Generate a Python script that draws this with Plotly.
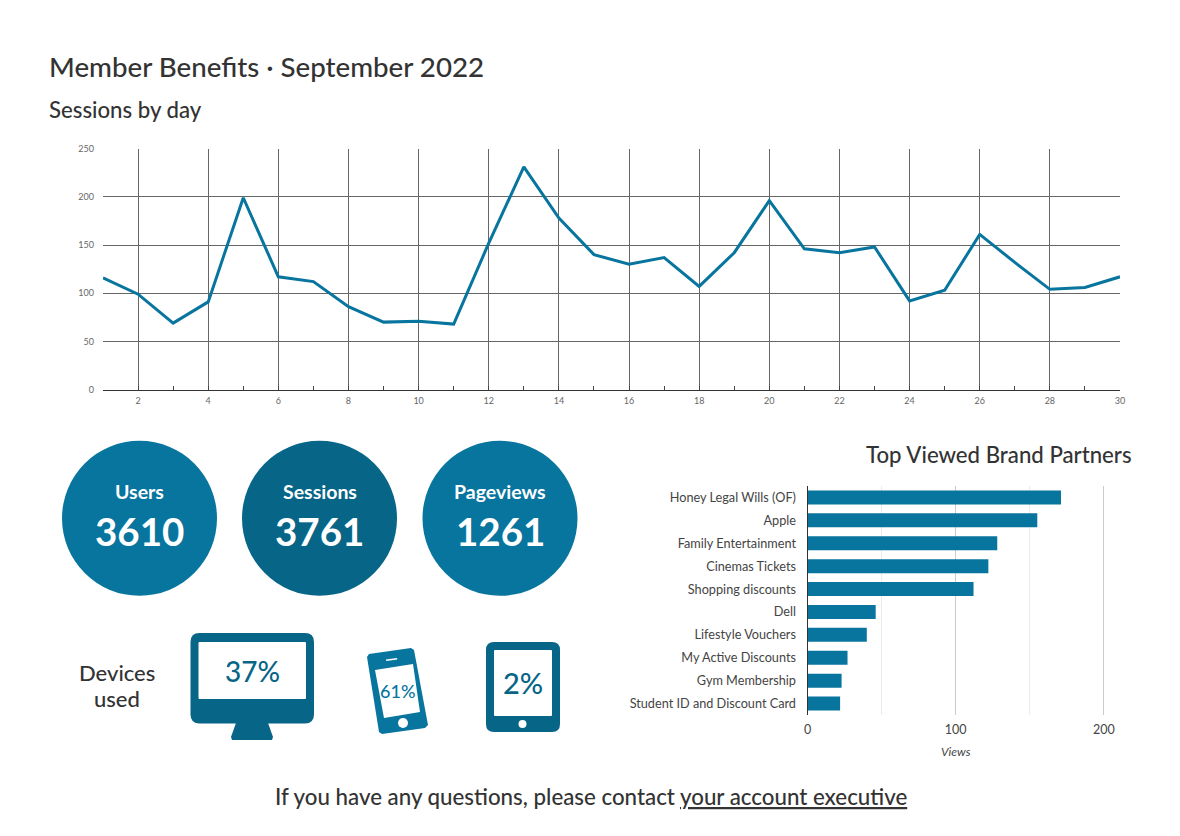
import plotly.graph_objects as go

W, H = 1180, 836
days = list(range(1, 31))
sessions = [116, 99, 69, 91, 199, 117, 112, 86, 70, 71, 68, 152, 231, 178, 140,
            130, 137, 107, 142, 196, 146, 142, 148, 92, 103, 161, 132, 104, 106, 117]
partners = ["Honey Legal Wills (OF)", "Apple", "Family Entertainment", "Cinemas Tickets",
            "Shopping discounts", "Dell", "Lifestyle Vouchers", "My Active Discounts",
            "Gym Membership", "Student ID and Discount Card"]
views = [171, 155, 128, 122, 112, 46, 40, 27, 23, 22]
kpi_labels = ["Users", "Sessions", "Pageviews"]
kpi_values = ["3610", "3761", "1261"]
device_shares = ["37%", "61%", "2%"]

BLUE = "#08759f"
DARK = "#076587"
INK = "#333333"
FONT = "Lato"


def fx(x):
    return x / W


def fy(y):
    return 1 - y / H


def path(pts):
    return "M " + " L ".join(f"{fx(x):.5f},{fy(y):.5f}" for x, y in pts) + " Z"


def rrect(x0, y0, x1, y1, r):
    a, b, c, d = fx(x0), fy(y0), fx(x1), fy(y1)
    rx, ry = r / W, r / H
    return (f"M {a+rx:.5f},{b:.5f} L {c-rx:.5f},{b:.5f} Q {c:.5f},{b:.5f} {c:.5f},{b-ry:.5f} "
            f"L {c:.5f},{d+ry:.5f} Q {c:.5f},{d:.5f} {c-rx:.5f},{d:.5f} L {a+rx:.5f},{d:.5f} "
            f"Q {a:.5f},{d:.5f} {a:.5f},{d+ry:.5f} L {a:.5f},{b-ry:.5f} Q {a:.5f},{b:.5f} {a+rx:.5f},{b:.5f} Z")


def shp(d, color):
    return dict(type="path", xref="paper", yref="paper", path=d, fillcolor=color,
                line=dict(width=0), layer="below")


def circle(cx, cy, r, color):
    return dict(type="circle", xref="paper", yref="paper", x0=fx(cx - r), x1=fx(cx + r),
                y0=fy(cy + r), y1=fy(cy - r), fillcolor=color, line=dict(width=0), layer="below")


def text(x, y, s, size, color=INK, anchor="left", weight=500):
    return dict(xref="paper", yref="paper", x=fx(x), y=fy(y), text=s, showarrow=False,
                xanchor=anchor, yanchor="middle",
                font=dict(family=FONT, size=size, color=color, weight=weight))


shapes = [
    circle(139.5, 518.3, 77.5, BLUE),
    circle(319.5, 518.3, 77.5, DARK),
    circle(500, 518.3, 77.5, BLUE),
    # desktop monitor
    shp(rrect(190.5, 633, 314, 723.5, 9), DARK),
    shp(rrect(198.5, 642, 306, 699, 1), "white"),
    shp(path([(236, 723), (268, 723), (273, 737), (272, 740), (232, 740), (231, 737)]), DARK),
    # phone
    shp(path([(367, 657), (369, 654), (411, 648), (414, 650), (428, 725), (425, 728), (382, 734), (379, 732)]), BLUE),
    shp(path([(375, 670), (413, 664), (420, 712), (384, 718)]), "white"),
    shp(path([(386, 659.5), (397, 658), (397.3, 659.5), (386.3, 661)]), "white"),
    circle(403, 723, 5, "white"),
    # tablet
    shp(rrect(486, 642, 560, 732, 8), DARK),
    shp(rrect(494, 650, 552, 716, 1), "white"),
    circle(522.5, 724, 4, "white"),
]

annotations = [
    text(47, 66, "Member Benefits · September 2022", 27.7),
    text(47, 109.5, "Sessions by day", 22.2),
    text(1134, 454.5, "Top Viewed Brand Partners", 22.2, anchor="right"),
    text(117, 672, "Devices", 22, anchor="center"),
    text(117, 698, "used", 22, anchor="center"),
    text(590.5, 796, "If you have any questions, please contact <u>your account executive</u>", 22.3, anchor="center"),
    text(252, 671, device_shares[0], 28, color=DARK, anchor="center"),
    text(397, 691, device_shares[1], 18, color=BLUE, anchor="center"),
    text(523, 682.5, device_shares[2], 29, color=DARK, anchor="center"),
    dict(xref="x2", x=100, yref="paper", y=fy(751), text="<i>Views</i>", showarrow=False,
         xanchor="center", yanchor="middle", font=dict(family=FONT, size=12, color="#444444")),
]
for cx, lab, val in zip((139.5, 319.5, 500), kpi_labels, kpi_values):
    annotations.append(text(cx, 492, lab, 19.5, color="white", anchor="center", weight=700))
    annotations.append(text(cx, 531, val, 38.5, color="white", anchor="center", weight=700))

fig = go.Figure()
fig.add_trace(go.Scatter(x=days, y=sessions, mode="lines", xaxis="x", yaxis="y",
                         line=dict(color=BLUE, width=3), showlegend=False))
fig.add_trace(go.Bar(x=views, y=partners, orientation="h", xaxis="x2", yaxis="y2",
                     marker=dict(color=BLUE, line=dict(width=0)), showlegend=False))

fig.update_layout(
    template="none",
    width=W, height=H, autosize=False,
    margin=dict(l=0, r=0, t=0, b=0, pad=0),
    paper_bgcolor="white", plot_bgcolor="white",
    font=dict(family=FONT, color=INK),
    bargap=0.39,
    shapes=shapes, annotations=annotations,
    xaxis=dict(domain=[fx(103), fx(1120)], anchor="y", range=[1, 30], automargin=False,
               tickmode="array", tickvals=days[1::2], ticks="inside", ticklen=4, tickcolor="#444444",
               minor=dict(tickmode="array", tickvals=days[0::2], ticks="inside", ticklen=4, tickcolor="#444444"),
               showgrid=True, gridcolor="#666666", gridwidth=1,
               showline=True, linecolor="#333333", linewidth=1, ticklabelstandoff=3,
               tickfont=dict(size=9, color="#666666"), zeroline=False),
    yaxis=dict(domain=[fy(389.6), fy(148.6)], anchor="x", range=[0, 250], dtick=50, automargin=False,
               showgrid=True, gridcolor="#666666", gridwidth=1, zeroline=False, ticklabelstandoff=8,
               ticks="", tickfont=dict(size=9, color="#666666")),
    xaxis2=dict(domain=[fx(807.5), fx(1120)], anchor="y2", range=[0, 210.8], dtick=100, automargin=False,
                showgrid=True, gridcolor="#cccccc", gridwidth=1, zeroline=False, ticklabelstandoff=5,
                minor=dict(dtick=50, showgrid=True, gridcolor="#ebebeb", gridwidth=1),
                tickfont=dict(size=12.5, color="#444444")),
    yaxis2=dict(domain=[fy(715), fy(486)], anchor="x2", autorange="reversed", automargin=False,
                showline=True, linecolor="#333333", linewidth=1, ticks="", showgrid=False,
                ticklabelstandoff=8, tickfont=dict(size=12.7, color="#444444")),
)

fig.write_html("out.html", config=dict(displayModeBar=False),
               post_script="document.body.style.margin='0';document.documentElement.style.overflow='hidden';")
